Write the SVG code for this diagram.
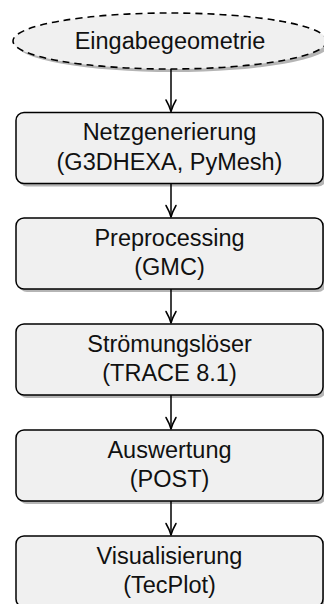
<svg xmlns="http://www.w3.org/2000/svg" width="324" height="604" viewBox="0 0 324 604">
<defs>
<style>
.sh{fill:#b5b5b5;stroke:none}
.bx{fill:#f0f0f0;stroke:#000;stroke-width:1.5}
.el{fill:#f0f0f0;stroke:#000;stroke-width:1.6;stroke-dasharray:7,5}
.t{font-family:"Liberation Sans",Arial,sans-serif;font-size:23.5px;text-anchor:middle;fill:#111}
.ln{fill:none;stroke:#000;stroke-width:1.5}
.ah{fill:none;stroke:#000;stroke-width:1.5;stroke-linecap:round;stroke-linejoin:round}
</style>
</defs>
<g id="n0">
<ellipse class="sh" cx="173" cy="44" rx="157" ry="28"/>
<ellipse class="el" cx="170" cy="41" rx="157" ry="28"/>
<text class="t" x="170" y="48.5">Eingabegeometrie</text>
</g>
<g id="n1">
<rect class="sh" x="19" y="115.5" width="307" height="71" rx="8"/>
<rect class="bx" x="16" y="112.5" width="307" height="71" rx="8"/>
<text class="t" x="169.5" y="140">Netzgenerierung</text>
<text class="t" x="169.5" y="169.5">(G3DHEXA, PyMesh)</text>
</g>
<g id="n2">
<rect class="sh" x="19" y="221" width="307" height="71" rx="8"/>
<rect class="bx" x="16" y="218" width="307" height="71" rx="8"/>
<text class="t" x="169.5" y="245.5">Preprocessing</text>
<text class="t" x="169.5" y="275">(GMC)</text>
</g>
<g id="n3">
<rect class="sh" x="19" y="327" width="307" height="71" rx="8"/>
<rect class="bx" x="16" y="324" width="307" height="71" rx="8"/>
<text class="t" x="169.5" y="351.5">Strömungslöser</text>
<text class="t" x="169.5" y="381">(TRACE 8.1)</text>
</g>
<g id="n4">
<rect class="sh" x="19" y="433" width="307" height="71" rx="8"/>
<rect class="bx" x="16" y="430" width="307" height="71" rx="8"/>
<text class="t" x="169.5" y="457.5">Auswertung</text>
<text class="t" x="169.5" y="487">(POST)</text>
</g>
<g id="n5">
<rect class="sh" x="19" y="539" width="307" height="71" rx="8"/>
<rect class="bx" x="16" y="536" width="307" height="71" rx="8"/>
<text class="t" x="169.5" y="563.5">Visualisierung</text>
<text class="t" x="169.5" y="593">(TecPlot)</text>
</g>
<g id="edges">
<line class="ln" x1="171" y1="69" x2="171" y2="111.5"/>
<path class="ah" d="M166,100 Q169.5,106 171,111.5 Q172.5,106 176,100"/>
<line class="ln" x1="171" y1="183.5" x2="171" y2="217"/>
<path class="ah" d="M166,205.5 Q169.5,211.5 171,217 Q172.5,211.5 176,205.5"/>
<line class="ln" x1="171" y1="289" x2="171" y2="323"/>
<path class="ah" d="M166,311.5 Q169.5,317.5 171,323 Q172.5,317.5 176,311.5"/>
<line class="ln" x1="171" y1="395" x2="171" y2="429"/>
<path class="ah" d="M166,417.5 Q169.5,423.5 171,429 Q172.5,423.5 176,417.5"/>
<line class="ln" x1="171" y1="501" x2="171" y2="535"/>
<path class="ah" d="M166,523.5 Q169.5,529.5 171,535 Q172.5,529.5 176,523.5"/>
</g>
</svg>
